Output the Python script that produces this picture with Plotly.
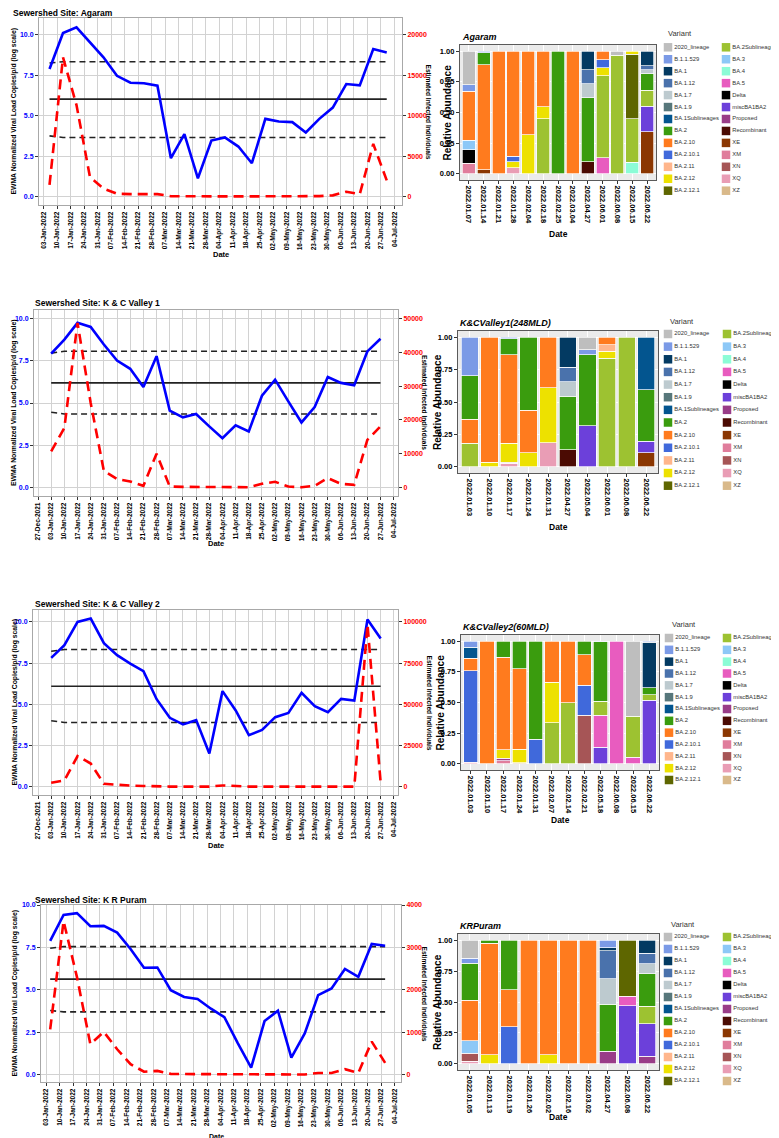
import plotly.graph_objects as go
import pandas as pd

W, H = 779, 1138
FONT = "Liberation Sans, Arial, Helvetica, sans-serif"

# ---------------- line-chart data ----------------
SITE_TITLES = ["Sewershed Site: Agaram", "Sewershed Site: K & C Valley 1",
               "Sewershed Site: K & C Valley 2", "Sewershed Site: K R Puram"]
SAMPLE_START = ["2022-01-06", "2022-01-03", "2022-01-03", "2022-01-05"]

EWMA_AGARAM = [7.88, 10.1, 10.45, 9.55, 8.6, 7.46, 7.03, 7.0, 6.85, 2.37, 3.86, 1.13, 3.46,
               3.65, 3.09, 2.06, 4.8, 4.64, 4.6, 3.96, 4.8, 5.5, 6.95, 6.87, 9.11, 8.9]
EWMA_KCV1 = [7.92, 8.75, 9.74, 9.5, 8.46, 7.51, 7.02, 5.95, 7.77, 4.55, 4.15, 4.35, 3.62,
             2.92, 3.68, 3.32, 5.43, 6.38, 5.1, 3.85, 4.76, 6.54, 6.19, 6.05, 8.05, 8.8]
EWMA_KCV2 = [7.82, 8.59, 10.0, 10.2, 8.71, 7.98, 7.47, 7.01, 5.31, 4.18, 3.78, 4.04, 2.02,
             5.8, 4.63, 3.13, 3.45, 4.22, 4.48, 5.7, 4.89, 4.52, 5.33, 5.23, 10.14, 8.99]
EWMA_KRP = [7.89, 9.41, 9.52, 8.75, 8.77, 8.37, 7.41, 6.3, 6.32, 4.98, 4.58, 4.46, 3.89,
            3.39, 1.86, 0.42, 3.16, 3.77, 1.0, 2.43, 4.69, 5.08, 6.23, 5.77, 7.7, 7.6]

INFECTED_AGARAM = [1450, 17200, 11300, 2400, 1000, 350, 300, 300, 300, 50, 20, 20, 20,
                   20, 20, 20, 100, 60, 60, 40, 60, 150, 600, 300, 6500, 2000]
INFECTED_KCV1 = [10700, 17600, 48700, 25000, 4900, 2500, 1800, 500, 10000, 300, 200, 200, 100,
                 100, 100, 100, 1100, 1700, 300, 100, 500, 2800, 1100, 800, 14100, 18100]
INFECTED_KCV2 = [2400, 3800, 18600, 14100, 1800, 1200, 700, 500, 200, 100, 100, 100, 100,
                 800, 300, 100, 100, 100, 100, 300, 100, 100, 100, 100, 98400, 2400]
INFECTED_KRP = [1070, 3620, 2300, 720, 1010, 600, 250, 70, 90, 20, 15, 15, 10,
                10, 5, 5, 10, 15, 5, 5, 40, 40, 130, 40, 780, 280]

MEAN_LEVEL = [6.02, 6.19, 6.10, 5.63]
UPPER_LIMIT = [[8.25, 8.33, 8.33], [7.95, 8.06, 8.06], [8.22, 8.32, 8.32], [7.45, 7.55, 7.55]]
LOWER_LIMIT = [[3.75, 3.65, 3.65], [4.45, 4.35, 4.35], [4.00, 3.90, 3.90], [3.78, 3.70, 3.70]]

LEFT_TICKS = [0, 2.5, 5, 7.5, 10]
LEFT_TICK_TEXT = ["0.0", "2.5", "5.0", "7.5", "10.0"]
RIGHT_TICKS = [[0, 5000, 10000, 15000, 20000],
               [0, 10000, 20000, 30000, 40000, 50000],
               [0, 25000, 50000, 75000, 100000],
               [0, 1000, 2000, 3000, 4000]]
RIGHT_PER_LEFT = [2000, 5000, 10000, 400]

EWMA_ALL = [EWMA_AGARAM, EWMA_KCV1, EWMA_KCV2, EWMA_KRP]
INFECTED_ALL = [INFECTED_AGARAM, INFECTED_KCV1, INFECTED_KCV2, INFECTED_KRP]

# ---------------- variant data ----------------
VARIANTS = ["2020_lineage", "B.1.1.529", "BA.1", "BA.1.12", "BA.1.7", "BA.1.9", "BA.1Sublineages",
            "BA.2", "BA.2.10", "BA.2.10.1", "BA.2.11", "BA.2.12", "BA.2.12.1",
            "BA.2Sublineages", "BA.3", "BA.4", "BA.5", "Delta", "miscBA1BA2", "Proposed",
            "Recombinant", "XE", "XM", "XN", "XQ", "XZ"]
VARIANT_COLORS = {
    "2020_lineage": "#BEBEBE", "B.1.1.529": "#7B9AE6", "BA.1": "#033A62", "BA.1.12": "#4A72AC",
    "BA.1.7": "#BDCACF", "BA.1.9": "#57777B", "BA.1Sublineages": "#03558F", "BA.2": "#3A9C0E",
    "BA.2.10": "#FF7B1E", "BA.2.10.1": "#4069DB", "BA.2.11": "#FFB68C", "BA.2.12": "#EDE100",
    "BA.2.12.1": "#5E6600", "BA.2Sublineages": "#9DC231", "BA.3": "#8DC8F7", "BA.4": "#8CFCD6",
    "BA.5": "#E85CBF", "Delta": "#000000", "miscBA1BA2": "#6C40DA", "Proposed": "#993C88",
    "Recombinant": "#4B0B03", "XE": "#8B3702", "XM": "#E07D9C", "XN": "#A65556",
    "XQ": "#E99DB5", "XZ": "#D9B98A",
}

BAR_TITLES = ["Agaram", "K&CValley1(248MLD)", "K&CValley2(60MLD)", "KRPuram"]

AGARAM_MIX = {
    "2022.01.07": {"XM": .085, "Delta": .11, "BA.3": .08, "BA.2.10": .40, "B.1.1.529": .05, "2020_lineage": .275},
    "2022.01.14": {"XE": .035, "BA.2.10": .855, "BA.2": .095, "B.1.1.529": .015},
    "2022.01.21": {"BA.2.10": 1.0},
    "2022.01.28": {"XQ": .05, "BA.2.12": .05, "BA.2.10.1": .045, "BA.2.10": .855},
    "2022.02.04": {"BA.2.12": .32, "BA.2.10": .68},
    "2022.02.18": {"BA.2Sublineages": .45, "BA.2.12": .095, "BA.2.10": .455},
    "2022.02.25": {"BA.2": 1.0},
    "2022.03.04": {"BA.2.10": 1.0},
    "2022.04.27": {"Recombinant": .10, "BA.2": .52, "BA.1.7": .115, "BA.1.12": .115, "BA.1": .15},
    "2022.06.01": {"BA.5": .13, "BA.2Sublineages": .67, "BA.2.12": .065, "BA.2.10.1": .065, "BA.2.10": .07},
    "2022.06.08": {"BA.2Sublineages": .965, "2020_lineage": .035},
    "2022.06.15": {"BA.4": .095, "BA.2Sublineages": .355, "BA.2.12.1": .525, "BA.2.12": .025},
    "2022.06.22": {"XE": .345, "miscBA1BA2": .205, "BA.2Sublineages": .13, "BA.2": .135,
                   "BA.1.7": .035, "BA.1.12": .03, "BA.1": .12},
}
KCV1_MIX = {
    "2022.01.03": {"BA.2Sublineages": .18, "BA.2.10": .185, "BA.2": .34, "B.1.1.529": .295},
    "2022.01.10": {"BA.2.12": .035, "BA.2.10": .965},
    "2022.01.17": {"XQ": .025, "XN": .01, "BA.2.12": .145, "BA.2.10": .685, "BA.2": .125, "B.1.1.529": .01},
    "2022.01.24": {"BA.2.12": .105, "BA.2.10": .33, "BA.2": .565},
    "2022.01.31": {"XQ": .185, "BA.2.12": .425, "BA.2.10": .39},
    "2022.04.27": {"Recombinant": .13, "BA.2": .415, "BA.1.7": .11, "BA.1.12": .115, "BA.1": .23},
    "2022.05.04": {"miscBA1BA2": .315, "BA.2": .55, "B.1.1.529": .04, "2020_lineage": .095},
    "2022.06.01": {"BA.2Sublineages": .84, "BA.2.12": .055, "BA.2.11": .05, "BA.2.10": .055},
    "2022.06.08": {"BA.2Sublineages": 1.0},
    "2022.06.22": {"XE": .105, "miscBA1BA2": .09, "BA.2": .40, "BA.1Sublineages": .405},
}
KCV2_MIX = {
    "2022.01.03": {"XM": .015, "BA.2.10.1": .745, "BA.2.10": .10, "BA.1Sublineages": .09, "B.1.1.529": .05},
    "2022.01.10": {"BA.2.10": 1.0},
    "2022.01.17": {"XM": .025, "Proposed": .02, "BA.2.12": .07, "BA.2.10": .755, "BA.2": .13},
    "2022.01.24": {"XZ": .01, "BA.2.12": .11, "BA.2.10": .655, "BA.2": .225},
    "2022.01.31": {"BA.2.10.1": .20, "BA.2": .80},
    "2022.02.07": {"BA.2Sublineages": .335, "BA.2.12": .33, "BA.2.10": .335},
    "2022.02.14": {"BA.2Sublineages": .50, "BA.2.10": .50},
    "2022.02.21": {"XN": .395, "BA.2.10.1": .245, "BA.2.10": .25, "BA.2": .11},
    "2022.05.18": {"miscBA1BA2": .135, "BA.5": .26, "BA.2Sublineages": .115, "BA.2": .485, "B.1.1.529": .005},
    "2022.06.08": {"BA.5": 1.0},
    "2022.06.15": {"BA.5": .055, "BA.2Sublineages": .335, "2020_lineage": .61},
    "2022.06.22": {"miscBA1BA2": .52, "BA.2Sublineages": .045, "BA.2": .055, "BA.1": .37, "B.1.1.529": .01},
}
KRP_MIX = {
    "2022.01.05": {"XQ": .02, "XN": .065, "BA.3": .10, "BA.2.10": .33, "BA.2": .30, "B.1.1.529": .04, "2020_lineage": .145},
    "2022.01.13": {"BA.2.12": .075, "BA.2.10": .90, "BA.2": .025},
    "2022.01.19": {"BA.2.10.1": .30, "BA.2.10": .30, "BA.2": .40},
    "2022.01.26": {"BA.2.10": 1.0},
    "2022.02.02": {"BA.2.12": .075, "BA.2.10": .925},
    "2022.02.16": {"BA.2.10": 1.0},
    "2022.03.02": {"BA.2.10": 1.0},
    "2022.04.27": {"Proposed": .10, "BA.2": .38, "BA.1.7": .21, "BA.1.12": .225, "BA.1": .025, "B.1.1.529": .06},
    "2022.06.08": {"miscBA1BA2": .47, "BA.5": .075, "BA.2.12.1": .455},
    "2022.06.22": {"Proposed": .06, "miscBA1BA2": .265, "BA.2Sublineages": .14, "BA.2": .265,
                   "BA.1.7": .08, "BA.1.12": .085, "BA.1": .105},
}
MIX_ALL = [AGARAM_MIX, KCV1_MIX, KCV2_MIX, KRP_MIX]
BAR_TICKS = [0, 0.25, 0.5, 0.75, 1.0]
BAR_TICK_TEXT = ["0.00", "0.25", "0.50", "0.75", "1.00"]

# ---------------- geometry (pixels) ----------------
LINE_BOX = [(31, 394, 10, 197), (26, 390, 302, 488), (25, 390, 602, 787), (33, 393, 897, 1074)]
LINE_YRANGE = [(-0.52, 11.03), (-0.5, 10.5), (-0.5, 10.72), (-0.43, 10.0)]
LINE_XRANGE = [("2021-12-31 13:00", "2022-07-07 22:00"), ("2021-12-24 21:00", "2022-07-06 07:00"),
               ("2021-12-24 08:00", "2022-07-06 05:00"), ("2021-12-31 05:00", "2022-07-07 07:00")]
TITLE_POS = [(3, 5), (25, 295), (25, 596), (25, 892)]
RIGHT_TITLE_X = [420, 417, 421, 416]
LINE_DATE_Y = [247, 536, 837, 1128]
LINE_DATE_X = [213, 208, 208, 208]
LINE_DATE_SIZE = [7.5, 7.5, 7.5, 7]

BAR_BOX = [(452, 648, 37, 172), (450, 650, 323, 465), (453, 651, 627, 762), (450, 651, 926, 1062)]
BAR_TITLE_POS = [(452, 29), (450, 315), (453, 619), (450, 918)]
BAR_YTITLE_X = [439, 429, 432, 429]
BAR_DATE_Y = [226, 519, 812, 1109]
LEGEND_GEOM = [(660, 718, 39.3, 182.7), (660, 719, 326, 477.7), (661, 719, 630, 772), (660, 719, 929, 1073)]
LEGEND_TITLE_POS = [(658, 26), (660, 313), (662, 616), (661, 916)]


def fx(p):
    return p / W


def fy(p):
    return 1 - p / H


def sfx(n):
    return "" if n == 1 else str(n)


fig = go.Figure()
layout = dict(width=W, height=H, margin=dict(l=0, r=0, t=0, b=0),
              paper_bgcolor="white", plot_bgcolor="rgba(0,0,0,0)",
              showlegend=False, barmode="stack", font=dict(family=FONT, color="black"))
annotations = []
shapes = []


def ann(text, x, y, size, color="black", weight="bold", xanchor="center", yanchor="middle",
        angle=0, style="normal", family=FONT):
    annotations.append(dict(text=text, x=fx(x), y=fy(y), xref="paper", yref="paper",
                            showarrow=False, xanchor=xanchor, yanchor=yanchor, textangle=angle,
                            font=dict(size=size, color=color, weight=weight, style=style, family=family)))


GRID = "#D2D2D2"
BORDER = "#A8A8A8"

for r in range(4):
    xi_line, xi_bar, xi_leg = 3 * r + 1, 3 * r + 2, 3 * r + 3
    yi_left, yi_right, yi_bar, yi_leg = 4 * r + 1, 4 * r + 2, 4 * r + 3, 4 * r + 4

    # ---------- line chart ----------
    x0, x1, yt, yb = LINE_BOX[r]
    dates = pd.date_range(SAMPLE_START[r], periods=len(EWMA_ALL[r]), freq="7D")
    lx = "x" + sfx(xi_line)
    ly = "y" + sfx(yi_left)
    ry = "y" + sfx(yi_right)
    ctrl_x = [dates[0], dates[1], dates[-1]]
    fig.add_trace(go.Scatter(x=[dates[0], dates[-1]], y=[MEAN_LEVEL[r]] * 2, mode="lines",
                             line=dict(color="#222222", width=1.6), xaxis=lx, yaxis=ly, hoverinfo="skip"))
    fig.add_trace(go.Scatter(x=ctrl_x, y=UPPER_LIMIT[r], mode="lines",
                             line=dict(color="#222222", width=1.6, dash="6px,4px"), xaxis=lx, yaxis=ly))
    fig.add_trace(go.Scatter(x=ctrl_x, y=LOWER_LIMIT[r], mode="lines",
                             line=dict(color="#222222", width=1.6, dash="6px,4px"), xaxis=lx, yaxis=ly))
    fig.add_trace(go.Scatter(x=dates, y=INFECTED_ALL[r], mode="lines",
                             line=dict(color="#FF0000", width=2.6, dash="10px,6px"), xaxis=lx, yaxis=ry))
    fig.add_trace(go.Scatter(x=dates, y=EWMA_ALL[r], mode="lines",
                             line=dict(color="#0000FF", width=2.6), xaxis=lx, yaxis=ly))

    k = RIGHT_PER_LEFT[r]
    lo, hi = LINE_YRANGE[r]
    layout["xaxis" + sfx(xi_line)] = dict(
        domain=[fx(x0), fx(x1)], anchor=ly, type="date", range=list(LINE_XRANGE[r]),
        tick0="2021-12-27", dtick=7 * 86400000, tickformat="%d-%b-%Y", tickangle=-90,
        tickfont=dict(size=6.5, color="black", weight="bold"), ticks="outside", ticklen=3,
        tickcolor="#333333", showgrid=True, gridcolor=GRID, gridwidth=1.3, showline=True,
        mirror=True, linecolor=BORDER, linewidth=1, zeroline=False, automargin=False, fixedrange=True)
    layout["yaxis" + sfx(yi_left)] = dict(
        domain=[fy(yb), fy(yt)], anchor=lx, range=[lo, hi], tickvals=LEFT_TICKS,
        ticktext=LEFT_TICK_TEXT, tickfont=dict(size=7, color="#0000FF", weight="bold"),
        ticks="outside", ticklen=3, tickcolor="#333333", showgrid=True, gridcolor=GRID,
        gridwidth=1.3, showline=True, mirror=True, linecolor=BORDER, linewidth=1,
        zeroline=False, automargin=False, fixedrange=True)
    layout["yaxis" + sfx(yi_right)] = dict(
        overlaying=ly, side="right", anchor=lx, range=[lo * k, hi * k], tickvals=RIGHT_TICKS[r],
        ticktext=[str(v) for v in RIGHT_TICKS[r]], tickfont=dict(size=7, color="#FF0000", weight="bold"),
        ticks="outside", ticklen=3, tickcolor="#333333", showgrid=False, showline=False,
        zeroline=False, automargin=False, fixedrange=True)

    tx, ty = TITLE_POS[r]
    ann(SITE_TITLES[r], tx, ty, 8.5, xanchor="left")
    ann("EWMA Normalized Viral Load Copies/p/d (log scale)", 6, (yt + yb) / 2, 6.8, angle=-90)
    ann("Estimated Infected Individuals", RIGHT_TITLE_X[r], (yt + yb) / 2, 6.6, angle=90)
    ann("Date", LINE_DATE_X[r], LINE_DATE_Y[r], LINE_DATE_SIZE[r])

    # ---------- stacked bar chart ----------
    bx0, bx1, byt, byb = BAR_BOX[r]
    mix = MIX_ALL[r]
    cats = list(mix.keys())
    bxa = "x" + sfx(xi_bar)
    bya = "y" + sfx(yi_bar)
    for v in reversed(VARIANTS):
        vals = [mix[c].get(v) for c in cats]
        if all(val is None for val in vals):
            continue
        fig.add_trace(go.Bar(x=cats, y=vals, name=v, width=0.88,
                             marker=dict(color=VARIANT_COLORS[v], line=dict(color="white", width=0.7)),
                             xaxis=bxa, yaxis=bya))
    layout["xaxis" + sfx(xi_bar)] = dict(
        domain=[fx(bx0), fx(bx1)], anchor=bya, type="category", range=[-0.6, len(cats) - 0.4],
        tickangle=90, tickfont=dict(size=7.5, color="black", weight="bold"), ticks="outside",
        ticklen=3, tickcolor="#333333", showgrid=True, gridcolor="white", gridwidth=1,
        showline=True, mirror=True, linecolor="#5A5A5A", linewidth=1.2, automargin=False, fixedrange=True)
    layout["yaxis" + sfx(yi_bar)] = dict(
        domain=[fy(byb), fy(byt)], anchor=bxa, range=[-0.05, 1.05], tickvals=BAR_TICKS,
        ticktext=BAR_TICK_TEXT, tickfont=dict(size=7.5, color="black", weight="bold"),
        ticks="outside", ticklen=3, tickcolor="#333333", showgrid=True, gridcolor="white",
        gridwidth=1, showline=True, mirror=True, linecolor="#5A5A5A", linewidth=1.2,
        zeroline=False, automargin=False, fixedrange=True)
    shapes.append(dict(type="rect", xref=bxa + " domain", yref=bya + " domain", x0=0, x1=1, y0=0, y1=1,
                       fillcolor="#EBEBEB", line=dict(width=0), layer="below"))
    btx, bty = BAR_TITLE_POS[r]
    ann(BAR_TITLES[r], btx, bty, 9, xanchor="left", style="italic")
    ann("Relative Abundance", BAR_YTITLE_X[r], (byt + byb) / 2, 10, angle=-90)
    ann("Date", (bx0 + bx1) / 2, BAR_DATE_Y[r], 8.5)

    # ---------- legend (drawn as a scatter on its own axes) ----------
    c1, c2, yf, yl = LEGEND_GEOM[r]
    half = (len(VARIANTS) + 1) // 2
    lgx = [0] * half + [1] * (len(VARIANTS) - half)
    lgy = list(range(half)) + list(range(len(VARIANTS) - half))
    gxa = "x" + sfx(xi_leg)
    gya = "y" + sfx(yi_leg)
    fig.add_trace(go.Scatter(x=lgx, y=lgy, mode="markers+text", text=VARIANTS,
                             textposition="middle right", cliponaxis=False, hoverinfo="skip",
                             marker=dict(symbol="square", size=8.5,
                                         color=[VARIANT_COLORS[v] for v in VARIANTS], line=dict(width=0)),
                             textfont=dict(family=FONT, size=5.8, color="#333333"),
                             xaxis=gxa, yaxis=gya))
    layout["xaxis" + sfx(xi_leg)] = dict(domain=[fx(c1), fx(c2)], anchor=gya, range=[0, 1],
                                          visible=False, fixedrange=True)
    layout["yaxis" + sfx(yi_leg)] = dict(domain=[fy(yl), fy(yf)], anchor=gxa, range=[half - 1, 0],
                                          visible=False, fixedrange=True)
    ltx, lty = LEGEND_TITLE_POS[r]
    ann("Variant", ltx, lty, 7.5, color="#333333", weight="normal", xanchor="left")

layout["annotations"] = annotations
layout["shapes"] = shapes
fig.update_layout(**layout)
fig.write_html("out.html")
